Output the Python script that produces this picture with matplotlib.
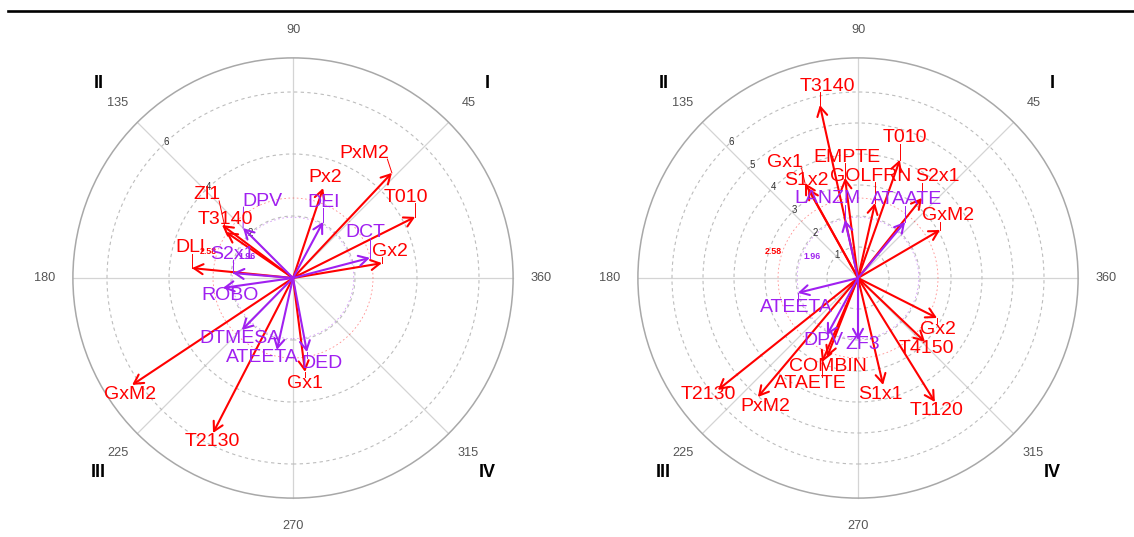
import numpy as np
import matplotlib
matplotlib.use("Agg")
import matplotlib.pyplot as plt
from matplotlib.patches import Circle, FancyArrowPatch
from matplotlib.lines import Line2D

plt.rcParams['font.family'] = ['Liberation Sans', 'DejaVu Sans']

# ---------------- data ----------------
# Left panel vectors (x, y coordinates of each arrow tip)
left_red_names = ["PxM2", "T010", "Gx2", "Px2", "Zl1", "T3140", "DLl", "GxM2", "T2130", "Gx1"]
left_red_x = [3.19, 3.94, 2.87, 0.97, -2.16, -2.29, -3.26, -5.19, -2.58, 0.39]
left_red_y = [3.39, 1.97, 0.48, 2.90, 1.48, 1.71, 0.32, -3.45, -5.00, -3.03]

left_purple_names = ["DPV", "DEI", "DCT", "S2x1", "ROBO", "DTMESA", "ATEETA", "DED"]
left_purple_x = [-1.61, 0.97, 2.48, -1.94, -2.26, -1.65, -0.52, 0.45]
left_purple_y = [1.61, 1.81, 0.65, 0.16, -0.32, -1.68, -2.32, -2.39]

# Right panel vectors
right_red_names = ["T3140", "EMPTE", "Gx1", "S1x2", "GOLFRN", "T010", "S2x1", "GxM2",
                   "COMBIN", "ATAETE", "T2130", "PxM2", "S1x1", "T1120", "T4150", "Gx2"]
right_red_x = [-1.23, -0.42, -1.71, -1.61, 0.55, 1.35, 2.06, 2.65,
               -1.00, -1.16, -4.52, -3.23, 0.81, 2.48, 2.16, 2.55]
right_red_y = [5.58, 3.23, 3.06, 2.90, 2.42, 3.81, 2.58, 1.55,
               -2.55, -2.71, -3.61, -3.84, -3.45, -4.00, -2.06, -1.29]

right_purple_names = ["LANZM", "ATAATE", "ATEETA", "DPV", "ZF3"]
right_purple_x = [-0.42, 1.52, -1.94, -1.00, 0.00]
right_purple_y = [1.87, 1.81, -0.48, -1.84, -2.00]

# significance circles
crit_red = 2.58
crit_purple = 1.96

angle_labels = [45, 90, 135, 180, 225, 270, 315, 360]
quadrant_labels = ["I", "II", "III", "IV"]

# ---------------- layout (label placement) ----------------
left_label_pos = {
    "PxM2": (2.29, 4.03), "T010": (3.65, 2.61), "Gx2": (3.13, 0.87), "Px2": (1.03, 3.23),
    "Zl1": (-2.77, 2.68), "T3140": (-2.19, 1.90), "DLl": (-3.32, 0.97), "GxM2": (-5.26, -3.77),
    "T2130": (-2.61, -5.29), "Gx1": (0.39, -3.39),
    "DPV": (-1.0, 2.48), "DEI": (1.0, 2.45), "DCT": (2.32, 1.48), "S2x1": (-1.94, 0.77),
    "ROBO": (-2.03, -0.58), "DTMESA": (-1.71, -1.94), "ATEETA": (-1.0, -2.55), "DED": (0.94, -2.77),
}
right_label_pos = {
    "T3140": (-1.0, 6.19), "EMPTE": (-0.35, 3.90), "Gx1": (-2.35, 3.74), "S1x2": (-1.68, 3.16),
    "GOLFRN": (0.42, 3.29), "T010": (1.52, 4.52), "S2x1": (2.55, 3.26), "GxM2": (2.90, 2.00),
    "COMBIN": (-0.97, -2.84), "ATAETE": (-1.55, -3.39), "T2130": (-4.84, -3.77), "PxM2": (-3.0, -4.13),
    "S1x1": (0.71, -3.77), "T1120": (2.52, -4.26), "T4150": (2.19, -2.26), "Gx2": (2.58, -1.65),
    "LANZM": (-0.97, 2.55), "ATAATE": (1.58, 2.52), "ATEETA": (-2.0, -0.94), "DPV": (-1.13, -2.03),
    "ZF3": (0.16, -2.16),
}

RED = "#FF0000"
PURPLE = "#A020F0"
W, H = 1134, 537
PX = 31.0          # pixels per unit
R_OUT = 7.1
R_ANG = 8.0
R_QUAD = 8.87
LABEL_FS = 14

fig = plt.figure(figsize=(W / 100, H / 100), dpi=100)
fig.add_artist(Line2D([8 / W, 1.0], [1 - 11 / H, 1 - 11 / H], color="black", lw=1.9))
pending = []


def make_panel(cx, cy, grid_r, tick_r, reds, purples, label_pos):
    xl, xr, yb, yt = 8.8, 8.8, 8.3, 8.9
    left = (cx - xl * PX) / W
    bottom = ((H - cy) - yb * PX) / H
    ax = fig.add_axes([left, bottom, (xl + xr) * PX / W, (yb + yt) * PX / H])
    ax.set_xlim(-xl, xr)
    ax.set_ylim(-yb, yt)
    ax.axis("off")

    for a in range(0, 360, 45):
        t = np.deg2rad(a)
        ax.plot([0, R_OUT * np.cos(t)], [0, R_OUT * np.sin(t)], color="#d4d4d4", lw=0.9, zorder=1)
    for r in grid_r:
        ax.add_patch(Circle((0, 0), r, fill=False, ec="#bdbdbd", lw=0.8, ls=(0, (3, 3)), zorder=1))
    ax.add_patch(Circle((0, 0), R_OUT, fill=False, ec="#a8a8a8", lw=1.1, zorder=1))
    ax.add_patch(Circle((0, 0), crit_red, fill=False, ec=RED, lw=0.6, ls=(0, (2, 3)), alpha=0.45, zorder=1))
    ax.add_patch(Circle((0, 0), crit_purple, fill=False, ec=PURPLE, lw=0.6, ls=(0, (2, 3)), alpha=0.45, zorder=1))
    ax.text(-2.74, 0.87, f"{crit_red:.2f}", color=RED, fontsize=6.3, fontweight="bold",
            ha="center", va="center", zorder=2)
    ax.text(-1.48, 0.69, f"{crit_purple:.2f}", color=PURPLE, fontsize=6.3, fontweight="bold",
            ha="center", va="center", zorder=2)
    t = np.deg2rad(133)
    for r in tick_r:
        ax.text(r * np.cos(t), r * np.sin(t), str(r), fontsize=7, color="#333333",
                ha="center", va="center", zorder=2)
    for a in angle_labels:
        t = np.deg2rad(a)
        ax.text(R_ANG * np.cos(t), R_ANG * np.sin(t), str(a), fontsize=9.2, color="#555555",
                ha="center", va="center", clip_on=False)
    for q, a in zip(quadrant_labels, [45, 135, 225, 315]):
        t = np.deg2rad(a)
        ax.text(R_QUAD * np.cos(t), R_QUAD * np.sin(t), q, fontsize=13, fontweight="bold",
                color="black", ha="center", va="center", clip_on=False)

    for (names, xs, ys), col in ((reds, RED), (purples, PURPLE)):
        for n, x, y in zip(names, xs, ys):
            arr = FancyArrowPatch((0, 0), (x, y), arrowstyle="->,head_length=6.5,head_width=3.6",
                                  mutation_scale=1, color=col, lw=1.5, shrinkA=0, shrinkB=0,
                                  zorder=3)
            ax.add_patch(arr)
    for (names, xs, ys), col in ((reds, RED), (purples, PURPLE)):
        for n, x, y in zip(names, xs, ys):
            lx, ly = label_pos[n]
            txt = ax.text(lx, ly, n, color=col, fontsize=LABEL_FS, ha="center", va="center", zorder=4)
            pending.append((ax, txt, x, y, col))
    return ax


make_panel(293, 278, [2, 4, 6], [2, 4, 6],
           (left_red_names, left_red_x, left_red_y),
           (left_purple_names, left_purple_x, left_purple_y), left_label_pos)
make_panel(858, 278, [1, 2, 3, 4, 5, 6], [1, 2, 3, 4, 5, 6],
           (right_red_names, right_red_x, right_red_y),
           (right_purple_names, right_purple_x, right_purple_y), right_label_pos)

# leader lines from arrow tip to nearest point of the label box
fig.canvas.draw()
renderer = fig.canvas.get_renderer()
for ax, txt, x, y, col in pending:
    bb = txt.get_window_extent(renderer).transformed(ax.transData.inverted())
    x0, x1 = bb.x0 + 0.05, bb.x1 - 0.05
    y0, y1 = bb.y0 + 0.08, bb.y1 - 0.08
    nx = min(max(x, x0), x1)
    ny = min(max(y, y0), y1)
    if np.hypot(nx - x, ny - y) > 0.15:
        ax.plot([x, nx], [y, ny], color=col, lw=0.7, zorder=3)

fig.savefig("out.png", dpi=100, facecolor="white")
